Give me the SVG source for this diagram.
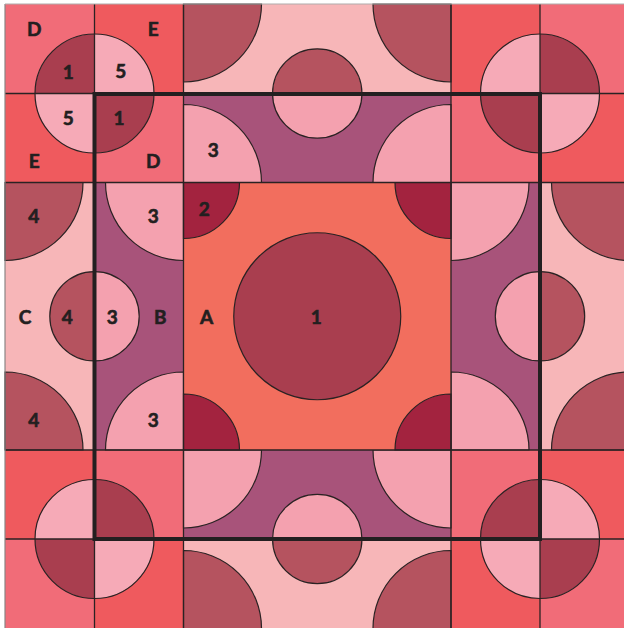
<svg xmlns="http://www.w3.org/2000/svg" width="624" height="628" viewBox="0 0 624 628">
<style>
.red{fill:#EF5A5E}.lt{fill:#F16C78}.cl{fill:#F6AAB7}.cd{fill:#A93E4F}
.cbg{fill:#F7B6B8}.mv{fill:#B5535F}.pu{fill:#A8537A}.pk{fill:#F4A1AF}
.co{fill:#F26E5E}.cr{fill:#A3233F}
.ol{fill:none;stroke:#2A2223;stroke-width:1.2}
.g{stroke:#2A2223;stroke-width:1.3}
.t{font-family:Lato,"Liberation Sans",sans-serif;font-weight:bold;font-size:19px;fill:#231F20;stroke:#231F20;stroke-width:0.6;text-anchor:middle}
</style>
<rect x="0" y="0" width="624" height="628" fill="#fff"/>

<g id="corner-tl">
<rect class="lt" x="5" y="4" width="89.5" height="89.5"/>
<rect class="red" x="94.5" y="4" width="89" height="89.5"/>
<rect class="red" x="5" y="93.5" width="89.5" height="89"/>
<rect class="lt" x="94.5" y="93.5" width="89" height="89"/>
<circle class="cl" cx="94.5" cy="93.5" r="59.5"/>
<path class="cd" d="M94.5,93.5 L35,93.5 A59.5,59.5 0 0 1 94.5,34 Z"/>
<path class="cd" d="M94.5,93.5 L154,93.5 A59.5,59.5 0 0 1 94.5,153 Z"/>
<circle class="ol" cx="94.5" cy="93.5" r="59.5"/>
<text class="t" x="34.3" y="36">D</text>
<text class="t" x="153.3" y="36">E</text>
<text class="t" x="68.3" y="78.5">1</text>
<text class="t" x="120.7" y="78">5</text>
<text class="t" x="68.3" y="125">5</text>
<text class="t" x="119" y="124.5">1</text>
<text class="t" x="34.3" y="168">E</text>
<text class="t" x="153.3" y="168">D</text>
</g>

<g id="corner-tr">
<rect class="red" x="451" y="4" width="89" height="89.5"/>
<rect class="lt" x="540" y="4" width="89.5" height="89.5"/>
<rect class="lt" x="451" y="93.5" width="89" height="89"/>
<rect class="red" x="540" y="93.5" width="89.5" height="89"/>
<circle class="cd" cx="540" cy="93.5" r="59.5"/>
<path class="cl" d="M540,93.5 L480.5,93.5 A59.5,59.5 0 0 1 540,34 Z"/>
<path class="cl" d="M540,93.5 L599.5,93.5 A59.5,59.5 0 0 1 540,153 Z"/>
<circle class="ol" cx="540" cy="93.5" r="59.5"/>
</g>

<g id="corner-bl">
<rect class="red" x="5" y="450" width="89.5" height="89"/>
<rect class="lt" x="94.5" y="450" width="89" height="89"/>
<rect class="lt" x="5" y="539" width="89.5" height="89.5"/>
<rect class="red" x="94.5" y="539" width="89" height="89.5"/>
<circle class="cd" cx="94.5" cy="539" r="59.5"/>
<path class="cl" d="M94.5,539 L35,539 A59.5,59.5 0 0 1 94.5,479.5 Z"/>
<path class="cl" d="M94.5,539 L154,539 A59.5,59.5 0 0 1 94.5,598.5 Z"/>
<circle class="ol" cx="94.5" cy="539" r="59.5"/>
</g>

<g id="corner-br">
<rect class="lt" x="451" y="450" width="89" height="89"/>
<rect class="red" x="540" y="450" width="89.5" height="89"/>
<rect class="red" x="451" y="539" width="89" height="89.5"/>
<rect class="lt" x="540" y="539" width="89.5" height="89.5"/>
<circle class="cl" cx="540" cy="539" r="59.5"/>
<path class="cd" d="M540,539 L480.5,539 A59.5,59.5 0 0 1 540,479.5 Z"/>
<path class="cd" d="M540,539 L599.5,539 A59.5,59.5 0 0 1 540,598.5 Z"/>
<circle class="ol" cx="540" cy="539" r="59.5"/>
</g>

<g id="side-top">
<rect class="cbg" x="183.5" y="4" width="267.5" height="89.5"/>
<path class="ol" style="fill:#B5535F" d="M183.5,4 L261.5,4 A78,78 0 0 1 183.5,82 Z"/>
<path class="ol" style="fill:#B5535F" d="M451,4 L451,82 A78,78 0 0 1 373,4 Z"/>
<rect class="pu" x="183.5" y="93.5" width="267.5" height="89"/>
<path class="ol" style="fill:#F4A1AF" d="M183.5,182.5 L183.5,104.5 A78,78 0 0 1 261.5,182.5 Z"/>
<path class="ol" style="fill:#F4A1AF" d="M451,182.5 L373,182.5 A78,78 0 0 1 451,104.5 Z"/>
<path class="mv" d="M272.55,93.5 A44.7,44.7 0 0 1 361.95,93.5 Z"/>
<path class="pk" d="M272.55,93.5 A44.7,44.7 0 0 0 361.95,93.5 Z"/>
<circle class="ol" cx="317.25" cy="93.5" r="44.7"/>
<text class="t" x="213.3" y="157">3</text>
</g>

<g id="side-bottom">
<rect class="pu" x="183.5" y="450" width="267.5" height="89"/>
<path class="ol" style="fill:#F4A1AF" d="M183.5,450 L261.5,450 A78,78 0 0 1 183.5,528 Z"/>
<path class="ol" style="fill:#F4A1AF" d="M451,450 L451,528 A78,78 0 0 1 373,450 Z"/>
<rect class="cbg" x="183.5" y="539" width="267.5" height="89.5"/>
<path class="ol" style="fill:#B5535F" d="M183.5,628.5 L183.5,550.5 A78,78 0 0 1 261.5,628.5 Z"/>
<path class="ol" style="fill:#B5535F" d="M451,628.5 L373,628.5 A78,78 0 0 1 451,550.5 Z"/>
<path class="pk" d="M272.55,539 A44.7,44.7 0 0 1 361.95,539 Z"/>
<path class="mv" d="M272.55,539 A44.7,44.7 0 0 0 361.95,539 Z"/>
<circle class="ol" cx="317.25" cy="539" r="44.7"/>
</g>

<g id="side-left">
<rect class="cbg" x="5" y="182.5" width="89.5" height="267.5"/>
<path class="ol" style="fill:#B5535F" d="M5,182.5 L83,182.5 A78,78 0 0 1 5,260.5 Z"/>
<path class="ol" style="fill:#B5535F" d="M5,450 L5,372 A78,78 0 0 1 83,450 Z"/>
<rect class="pu" x="94.5" y="182.5" width="89" height="267.5"/>
<path class="ol" style="fill:#F4A1AF" d="M183.5,182.5 L183.5,260.5 A78,78 0 0 1 105.5,182.5 Z"/>
<path class="ol" style="fill:#F4A1AF" d="M183.5,450 L105.5,450 A78,78 0 0 1 183.5,372 Z"/>
<path class="mv" d="M94.5,271.55 A44.7,44.7 0 0 0 94.5,360.95 Z"/>
<path class="pk" d="M94.5,271.55 A44.7,44.7 0 0 1 94.5,360.95 Z"/>
<circle class="ol" cx="94.5" cy="316.25" r="44.7"/>
<text class="t" x="33.7" y="223">4</text>
<text class="t" x="153.3" y="223">3</text>
<text class="t" x="25" y="323.5">C</text>
<text class="t" x="67.3" y="323.5">4</text>
<text class="t" x="112.3" y="323.5">3</text>
<text class="t" x="160.3" y="323.5">B</text>
<text class="t" x="33.7" y="427">4</text>
<text class="t" x="153.3" y="427">3</text>
</g>

<g id="side-right">
<rect class="pu" x="451" y="182.5" width="89" height="267.5"/>
<path class="ol" style="fill:#F4A1AF" d="M451,182.5 L529,182.5 A78,78 0 0 1 451,260.5 Z"/>
<path class="ol" style="fill:#F4A1AF" d="M451,450 L451,372 A78,78 0 0 1 529,450 Z"/>
<rect class="cbg" x="540" y="182.5" width="89.5" height="267.5"/>
<path class="ol" style="fill:#B5535F" d="M629.5,182.5 L629.5,260.5 A78,78 0 0 1 551.5,182.5 Z"/>
<path class="ol" style="fill:#B5535F" d="M629.5,450 L551.5,450 A78,78 0 0 1 629.5,372 Z"/>
<path class="pk" d="M540,271.55 A44.7,44.7 0 0 0 540,360.95 Z"/>
<path class="mv" d="M540,271.55 A44.7,44.7 0 0 1 540,360.95 Z"/>
<circle class="ol" cx="540" cy="316.25" r="44.7"/>
</g>

<g id="center">
<rect class="co" x="183.5" y="182.5" width="267.5" height="267.5"/>
<path class="ol" style="fill:#A3233F" d="M183.5,182.5 L239.5,182.5 A56,56 0 0 1 183.5,238.5 Z"/>
<path class="ol" style="fill:#A3233F" d="M451,182.5 L451,238.5 A56,56 0 0 1 395,182.5 Z"/>
<path class="ol" style="fill:#A3233F" d="M183.5,450 L183.5,394 A56,56 0 0 1 239.5,450 Z"/>
<path class="ol" style="fill:#A3233F" d="M451,450 L395,450 A56,56 0 0 1 451,394 Z"/>
<circle class="ol" style="fill:#A93E4F" cx="317.25" cy="316.25" r="83.5"/>
<text class="t" x="204.3" y="216">2</text>
<text class="t" x="206.7" y="323.5">A</text>
<text class="t" x="316.3" y="323.5">1</text>
</g>

<g id="connectors">
<line class="g" x1="94.5" y1="4" x2="94.5" y2="628"/>
<line class="g" x1="183.5" y1="4" x2="183.5" y2="628"/>
<line class="g" x1="451" y1="4" x2="451" y2="628"/>
<line class="g" x1="540" y1="4" x2="540" y2="628"/>
<line class="g" x1="5" y1="93.5" x2="624" y2="93.5"/>
<line class="g" x1="5" y1="182.5" x2="624" y2="182.5"/>
<line class="g" x1="5" y1="450" x2="624" y2="450"/>
<line class="g" x1="5" y1="539" x2="624" y2="539"/>
<line x1="5" y1="4" x2="5" y2="628" stroke="#8a8585" stroke-width="1.2"/>
<line x1="5" y1="4" x2="624" y2="4" stroke="#b0acac" stroke-width="1.2"/>
<rect x="94.5" y="94" width="445.5" height="445" fill="none" stroke="#231F20" stroke-width="4"/>
</g>
</svg>
